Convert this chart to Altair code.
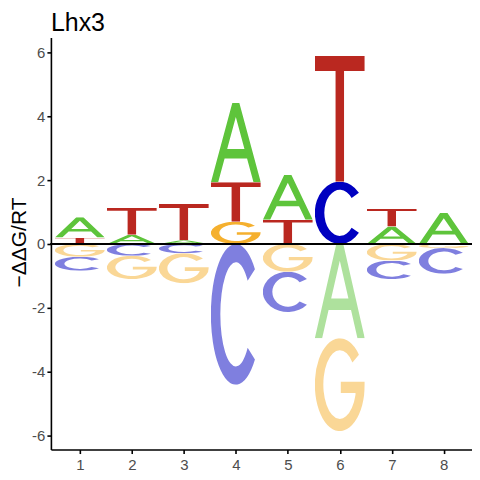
import altair as alt
import pandas as pd
from urllib.parse import quote

positions = [1, 2, 3, 4, 5, 6, 7, 8]
# letters above zero, listed from the zero line upward
up_letters = [["T", "A"], ["A", "T"], ["A", "T"], ["G", "T", "A"], ["T", "A"], ["C", "T"], ["A", "T"], ["A"]]
up_heights = [[0.20, 0.64], [0.29, 0.85], [0.12, 1.14], [0.70, 1.23, 2.49], [0.76, 1.41], [1.95, 3.94], [0.55, 0.55], [0.98]]
# letters below zero, listed from the zero line downward
down_letters = [["G", "C"], ["C", "G"], ["C", "G"], ["C"], ["G", "C"], ["A", "G"], ["G", "C"], ["G", "C"]]
down_heights = [[0.40, 0.44], [0.37, 0.73], [0.29, 0.94], [4.41], [0.87, 1.26], [2.95, 2.91], [0.52, 0.58], [0.13, 0.80]]

y_ticks = [-6, -4, -2, 0, 2, 4, 6]
title_text = ["Lhx3"]

# ---- styling ----
letter_colors = {"A": "#5EC43B", "C": "#0000C0", "G": "#F5B02E", "T": "#BA2820"}
# glyph outlines in a 100 x 100 box (stretched to each letter's cell)
glyph_paths = {
    "A": "M43,0 L57,0 L100,100 L85.4,100 L72.5,70 L27.5,70 L14.6,100 L0,100 Z "
         "M32.7,58 L67.3,58 L50,17.8 Z",
    "T": "M0,0 H100 V12 H58.5 V100 H41.5 V12 H0 Z",
    "C": "M88.3,17.9 A50,50 0 1 0 88.3,82.1 L73.7,73.8 A31,37 0 1 1 73.7,26.2 Z",
    "G": "M88.3,17.9 A50,50 0 1 0 100,50 L100,47 L52,47 L52,59 L81.5,59 L81.5,61 "
         "A33,37 0 1 1 75.3,26.2 Z",
}


def letter_url(letter, opacity):
    svg = (
        '<svg xmlns="http://www.w3.org/2000/svg" viewBox="0 0 100 100" preserveAspectRatio="none">'
        f'<path d="{glyph_paths[letter]}" fill="{letter_colors[letter]}" '
        f'fill-opacity="{opacity}" fill-rule="evenodd"/></svg>'
    )
    return "data:image/svg+xml;charset=utf-8," + quote(svg)


rows = []
for p, letters, heights in zip(positions, up_letters, up_heights):
    for r, (l, h) in enumerate(zip(letters, heights)):
        rows.append({"pos": p, "side": "up", "rank": r, "letter": l, "h": h,
                     "url": letter_url(l, 1.0)})
for p, letters, heights in zip(positions, down_letters, down_heights):
    for r, (l, h) in enumerate(zip(letters, heights)):
        rows.append({"pos": p, "side": "down", "rank": r, "letter": l, "h": -h,
                     "url": letter_url(l, 0.5)})
df = pd.DataFrame(rows)

FONT = "Liberation Sans"

x_scale = alt.Scale(domain=[0.443, 8.543], nice=False, zero=False)
y_scale = alt.Scale(domain=[-6.44, 6.47], nice=False, zero=False)

letters_layer = (
    alt.Chart(df)
    .transform_window(
        y_end="sum(h)", groupby=["pos", "side"], sort=[alt.SortField("rank")], frame=[None, 0]
    )
    .transform_calculate(
        y_start="datum.y_end - datum.h",
        x_left="datum.pos - 0.48",
        x_right="datum.pos + 0.48",
    )
    .transform_calculate(
        y_top="max(datum.y_start, datum.y_end)",
        y_bot="min(datum.y_start, datum.y_end)",
    )
    .mark_image(aspect=False)
    .encode(
        x=alt.X(
            "x_left:Q",
            scale=x_scale,
            axis=alt.Axis(
                values=positions, title=None, grid=False, tickSize=4, tickWidth=1.6,
                tickColor="black", domainColor="black", domainWidth=1.6,
                labelFontSize=15, labelFont=FONT, labelColor="#4D4D4D", labelPadding=4,
                labelExpr="toString(datum.value)",
            ),
        ),
        x2="x_right:Q",
        y=alt.Y(
            "y_top:Q",
            scale=y_scale,
            axis=alt.Axis(
                values=y_ticks, title="\u2212\u0394\u0394G/RT", grid=False, tickSize=4,
                tickWidth=1.6, tickColor="black", domainColor="black", domainWidth=1.6,
                labelFontSize=15, labelFont=FONT, labelColor="#4D4D4D", labelPadding=2,
                labelExpr="toString(datum.value)",
                titleFont=FONT, titleFontSize=21, titleFontWeight="normal", titleColor="black",
                titleX=-25, titleY=205, titleAngle=270, titleBaseline="alphabetic",
                titleAlign="center",
            ),
        ),
        y2="y_bot:Q",
        url="url:N",
    )
)

zero_line = alt.Chart(df).mark_rule(color="black", strokeWidth=1).encode(y=alt.datum(0))

title_layer = (
    alt.Chart(pd.DataFrame({"t": title_text}))
    .mark_text(align="left", baseline="alphabetic", font=FONT, fontSize=25, color="black")
    .encode(text="t:N", x=alt.value(0), y=alt.value(-6))
)

chart = (
    alt.layer(letters_layer, zero_line, title_layer)
    .properties(
        width=422,
        height=413,
        autosize="none",
        padding={"left": 43, "top": 29, "right": 0, "bottom": 22},
    )
    .configure_view(stroke=None)
)

chart.save("out.html", embed_options={"renderer": "svg", "actions": False})
